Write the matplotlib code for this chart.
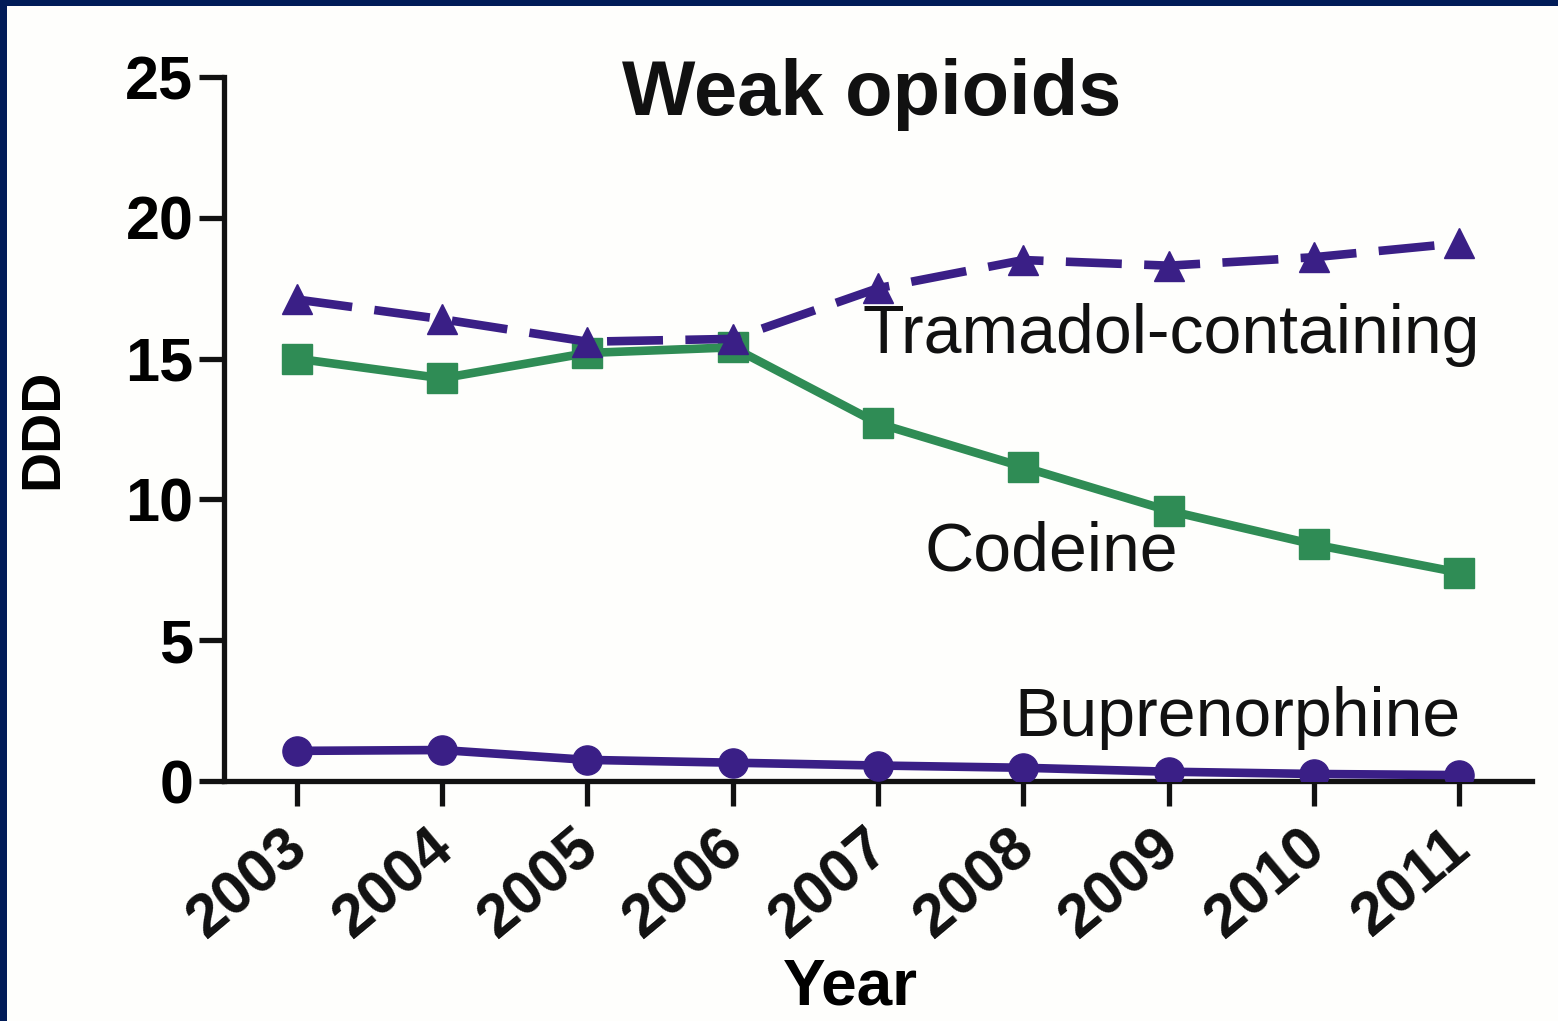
import matplotlib
matplotlib.use("Agg")
import matplotlib.pyplot as plt
import matplotlib.transforms as mtransforms
from matplotlib.patches import Rectangle

years = [2003, 2004, 2005, 2006, 2007, 2008, 2009, 2010, 2011]
tramadol = [17.1, 16.4, 15.6, 15.7, 17.5, 18.5, 18.3, 18.6, 19.1]
codeine = [15.0, 14.3, 15.2, 15.4, 12.7, 11.15, 9.6, 8.4, 7.4]
buprenorphine = [1.07, 1.1, 0.75, 0.65, 0.55, 0.47, 0.33, 0.25, 0.21]
yticks = [0, 5, 10, 15, 20, 25]
title = "Weak opioids"
series_labels = ["Tramadol-containing", "Codeine", "Buprenorphine"]

plt.rcParams['font.family'] = ['Liberation Sans', 'DejaVu Sans']

purple = "#3a1f86"
green = "#2f8c55"
bg = "#fefefc"
navy = "#011c58"

fig = plt.figure(figsize=(15.58, 10.21), dpi=100)
fig.patch.set_facecolor(bg)
# navy frame on top and left
fig.add_artist(Rectangle((0, 1 - 6 / 1021), 1, 6 / 1021, transform=fig.transFigure,
                         facecolor=navy, edgecolor='none'))
fig.add_artist(Rectangle((0, 0), 7 / 1558, 1, transform=fig.transFigure,
                         facecolor=navy, edgecolor='none'))

ax = fig.add_axes([224 / 1558, 1 - 781 / 1021, (1532 - 224) / 1558, (781 - 77) / 1021])
ax.set_facecolor(bg)

ax.plot(years, buprenorphine, color=purple, lw=6.2, marker='o', ms=21,
        solid_capstyle='butt', zorder=3)
ax.plot(years, codeine, color=green, lw=6.2, marker='s', ms=21,
        solid_capstyle='butt', zorder=3)
ax.plot(years, tramadol, color=purple, lw=6.2, marker='^', ms=21,
        linestyle=(0, (6.5, 2.6)), dash_capstyle='butt', zorder=4)

ax.set_xlim(2002.5, 2011.5)
ax.set_ylim(0, 25)
ax.set_yticks(yticks)
ax.set_xticks(years)
ax.set_xticklabels([])
ax.set_yticklabels([str(t) for t in yticks], fontsize=44, fontweight='bold')

# rotated year labels, anchored just below-left of each tick
offset = mtransforms.ScaledTranslation(-14 / 100, -38 / 100, fig.dpi_scale_trans)
for y in years:
    ax.text(y, 0, str(y), transform=ax.get_xaxis_transform() + offset,
            rotation=40, ha='right', va='top', rotation_mode='anchor',
            fontsize=44, fontweight='bold', color='#111111', clip_on=False)

for s in ['top', 'right']:
    ax.spines[s].set_visible(False)
for s in ['left', 'bottom']:
    ax.spines[s].set_linewidth(3.8)
    ax.spines[s].set_color('#111111')
ax.tick_params(axis='both', length=18, width=3.8, color='#111111', pad=4)
ax.spines['bottom'].set_zorder(2)

ax.set_ylabel("DDD", fontsize=40, fontweight='bold')
ax.yaxis.set_label_coords(-0.118, 0.5)
ax.set_xlabel("Year", fontsize=46, fontweight='bold')
ax.xaxis.set_label_coords(0.479, -0.25)

ax.text(0.495, 0.975, title, transform=ax.transAxes, ha='center', va='center',
        fontsize=56, fontweight='bold', color='#111111')

ax.text(2006.89, 15.84, series_labels[0], fontsize=49, color='#111111', ha='left', va='center')
ax.text(2007.32, 8.13, series_labels[1], fontsize=49, color='#111111', ha='left', va='center')
ax.text(2007.94, 2.24, series_labels[2], fontsize=49, color='#111111', ha='left', va='center')

fig.savefig("out.png", dpi=100, facecolor=bg)
